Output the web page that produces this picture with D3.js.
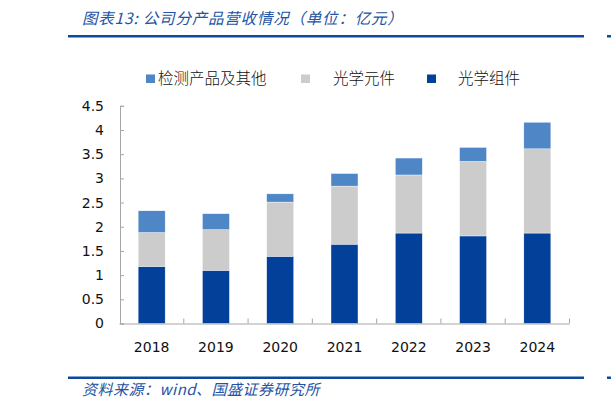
<!DOCTYPE html>
<html>
<head>
<meta charset="utf-8">
<script src="https://cdn.jsdelivr.net/npm/d3@7"></script>
<style>
  body { margin: 0; background: #fff; }
  svg { display: block; }
</style>
</head>
<body>
<svg id="chart" width="611" height="410"></svg>
<script>
// data (亿元)
var years = ["2018", "2019", "2020", "2021", "2022", "2023", "2024"];
var zujian = [1.18, 1.10, 1.39, 1.64, 1.87, 1.81, 1.87];   // 光学组件
var yuanjian = [0.70, 0.84, 1.12, 1.20, 1.20, 1.54, 1.74]; // 光学元件
var jiance = [0.45, 0.33, 0.17, 0.26, 0.35, 0.29, 0.55];   // 检测产品及其他
var yTicks = [0, 0.5, 1, 1.5, 2, 2.5, 3, 3.5, 4, 4.5];
var seriesNames = ["光学组件", "光学元件", "检测产品及其他"];
var colors = ["#02409A", "#CCCCCC", "#4F86C6"];

var svg = d3.select("#chart");
var cjk = "'Noto Sans CJK SC', sans-serif";
var navy = "#2453A3";

// header & footer
svg.append("text")
    .attr("x", 82).attr("y", 24)
    .attr("font-family", cjk).attr("font-size", 15.5)
    .attr("font-style", "italic").attr("letter-spacing", 0.8)
    .attr("fill", navy)
    .text("图表13:  公司分产品营收情况（单位：亿元）");

function rule(y) {
  svg.append("rect").attr("x", 68).attr("y", y - 1).attr("width", 516).attr("height", 2.5).attr("fill", "#0B4A9E");
  svg.append("rect").attr("x", 607).attr("y", y - 1).attr("width", 4).attr("height", 2.5).attr("fill", "#0B4A9E");
}
rule(36);
rule(377.5);

svg.append("text")
    .attr("x", 82).attr("y", 395)
    .attr("font-family", cjk).attr("font-size", 15)
    .attr("font-style", "italic").attr("letter-spacing", 0.5)
    .attr("fill", navy)
    .text("资料来源：wind、国盛证券研究所");

// plot
var x = d3.scaleBand().domain(years).range([119.5, 569.5]).paddingInner(0.58).paddingOuter(0.29);
var y = d3.scaleLinear().domain([0, 4.5]).range([323.5, 105.8]);

var rows = years.map(function(yr, i) {
  return { year: yr, "光学组件": zujian[i], "光学元件": yuanjian[i], "检测产品及其他": jiance[i] };
});
var stacked = d3.stack().keys(seriesNames)(rows);

svg.append("g").selectAll("g")
    .data(stacked)
    .enter().append("g")
      .attr("fill", function(d, i) { return colors[i]; })
    .selectAll("rect")
    .data(function(d) { return d; })
    .enter().append("rect")
      .attr("x", function(d) { return x(d.data.year); })
      .attr("width", x.bandwidth())
      .attr("y", function(d) { return y(d[1]); })
      .attr("height", function(d) { return y(d[0]) - y(d[1]); })
      .attr("stroke", "#fff").attr("stroke-width", 0.4);

var axisColor = "#A6A6A6";

// y axis (ticks point inward)
var yAxis = svg.append("g")
    .attr("transform", "translate(120,0)")
    .call(d3.axisRight(y).tickValues(yTicks).tickSize(4).tickFormat(d3.format("")));
yAxis.select(".domain").attr("stroke", axisColor);
yAxis.selectAll(".tick line").attr("stroke", axisColor);
yAxis.selectAll(".tick text")
    .attr("x", -16).attr("text-anchor", "end")
    .attr("font-family", "'DejaVu Sans', Verdana, sans-serif")
    .attr("font-size", 14).attr("fill", "#111");

// x axis (ticks between categories, pointing up)
var xAxis = svg.append("g")
    .attr("transform", "translate(0,323.5)")
    .call(d3.axisBottom(x).tickSize(0).tickPadding(19));
xAxis.select(".domain").attr("stroke", axisColor).attr("d", "M119.5,0.5H569.5");
xAxis.selectAll(".tick text")
    .attr("font-family", "'DejaVu Sans', Verdana, sans-serif")
    .attr("font-size", 14).attr("fill", "#111");
xAxis.selectAll(".sep")
    .data(years)
    .enter().append("line")
      .attr("class", "sep")
      .attr("x1", function(d) { return x(d) + x.bandwidth() / 2 + x.step() / 2; })
      .attr("x2", function(d) { return x(d) + x.bandwidth() / 2 + x.step() / 2; })
      .attr("y1", 0).attr("y2", -5)
      .attr("stroke", axisColor);

// legend
var legendItems = [
  { name: "检测产品及其他", color: colors[2], sx: 146, tx: 158 },
  { name: "光学元件", color: colors[1], sx: 301, tx: 333 },
  { name: "光学组件", color: colors[0], sx: 427, tx: 458 }
];
var lg = svg.append("g").selectAll("g").data(legendItems).enter().append("g");
lg.append("rect")
    .attr("x", function(d) { return d.sx; }).attr("y", 74.5)
    .attr("width", 9).attr("height", 8.5)
    .attr("fill", function(d) { return d.color; });
lg.append("text")
    .attr("x", function(d) { return d.tx; }).attr("y", 84)
    .attr("font-family", cjk).attr("font-size", 15.5).attr("font-weight", 300)
    .attr("fill", "#111")
    .text(function(d) { return d.name; });
</script>
</body>
</html>
